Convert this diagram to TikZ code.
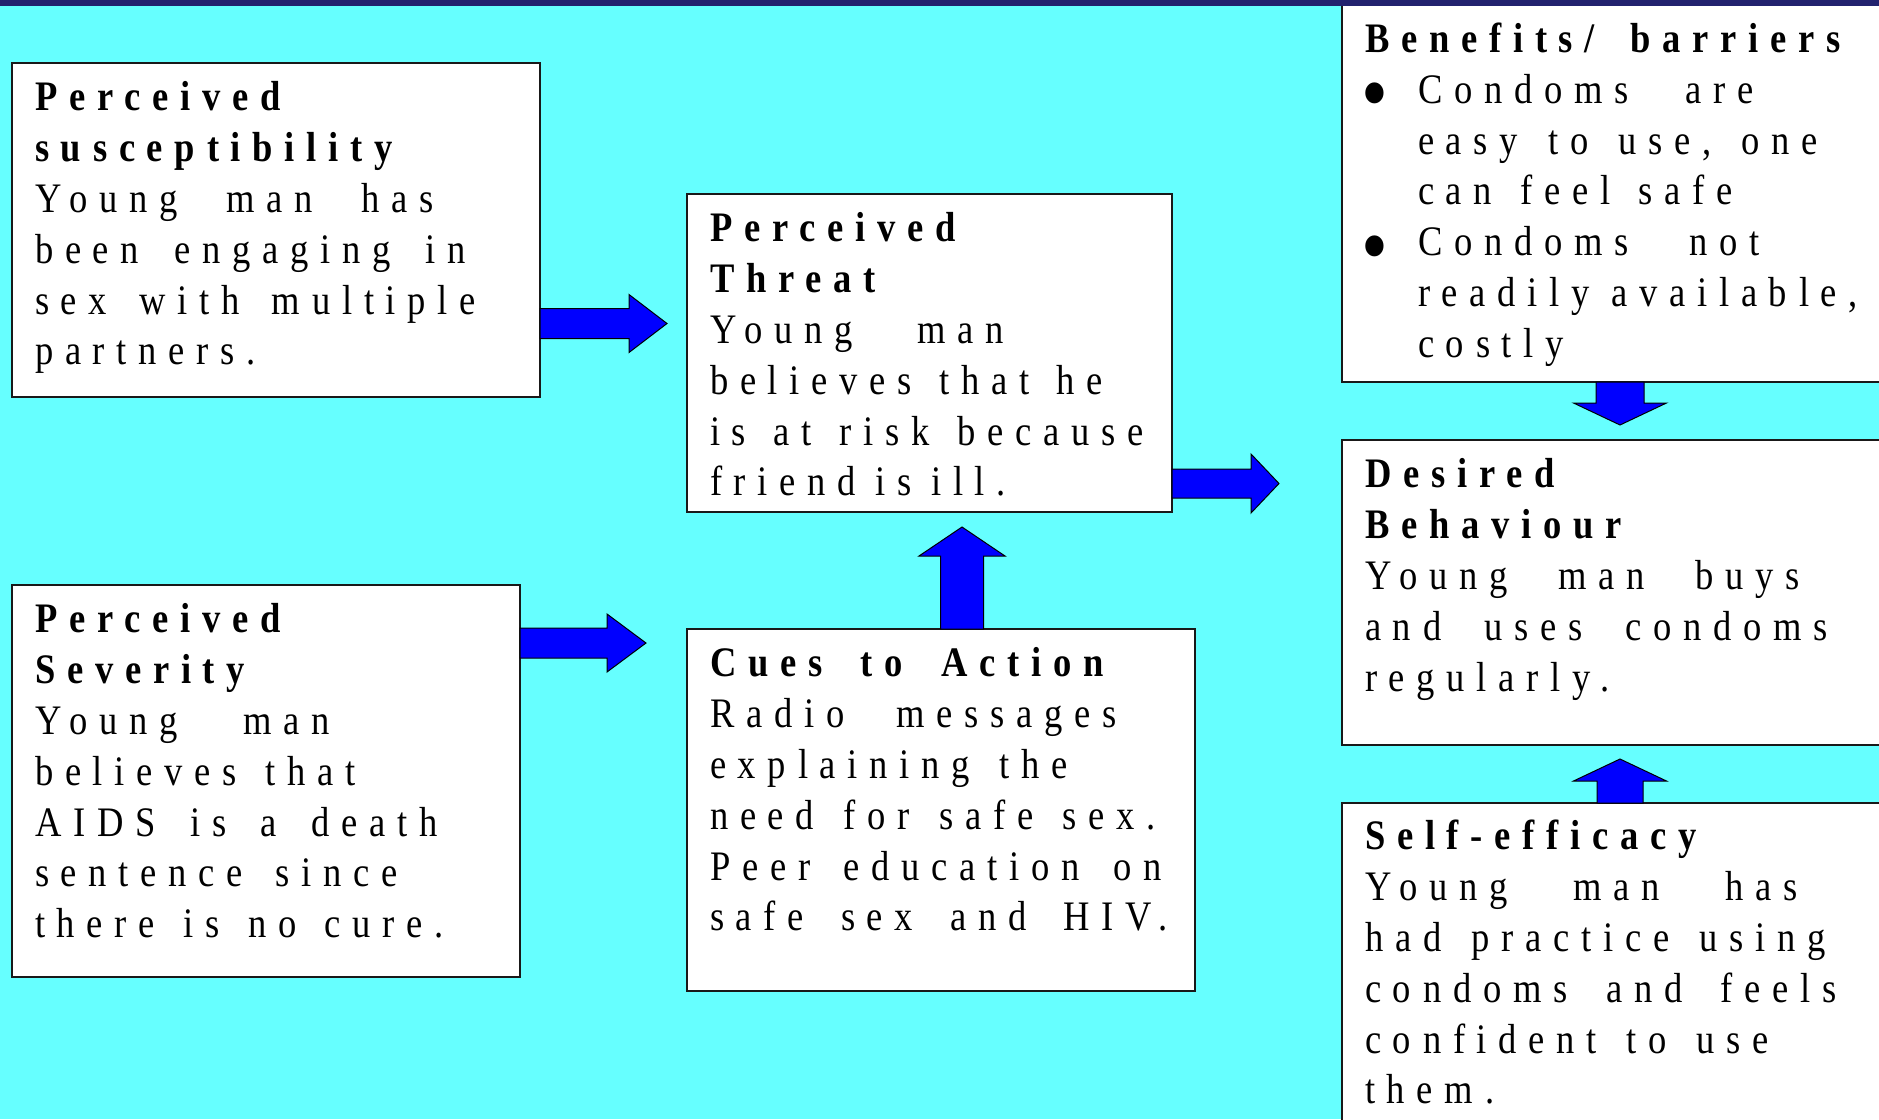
\documentclass[tikz,border=0pt]{standalone}
\usepackage{fontspec}
\setmainfont{Liberation Serif}[LetterSpace=28, FakeStretch=0.87]
\usetikzlibrary{calc}

\definecolor{bgcyan}{HTML}{66FFFF}
\definecolor{arrowblue}{HTML}{0000FF}
\definecolor{barnavy}{HTML}{22226E}

% word gap that can be spread out
\newcommand{\wsp}{\hspace{0.3em plus 5em}}
% one set line of text, spread to a given width (pt)
\newcommand{\fitline}[2]{\makebox[#1pt][s]{#2}}
% list marker ahead of an item's first line
\newcommand{\bulletmark}{\makebox[53pt][l]{\hspace*{-4pt}\raisebox{-19.5pt}{\fontsize{88}{88}\selectfont •}}}

\tikzset{
  box/.style={draw=black!90, line width=1.8pt, fill=white, rectangle,
    inner sep=0pt, outer sep=0pt, anchor=north west},
  boxtext/.style={anchor=north west, inner sep=0pt, outer sep=0pt,
    align=left, text width=600pt, font={\fontsize{42}{50.8}\selectfont}},
  blockarrow/.style={fill=arrowblue, draw=black, line width=1pt, line join=miter},
  % block arrow pointing along +x: total length, head length, shaft half width, head half width
  pics/barrow/.style n args={4}{code={
    \draw[blockarrow] (0,-#3) -- ({#1-#2},-#3) -- ({#1-#2},-#4) -- (#1,0)
      -- ({#1-#2},#4) -- ({#1-#2},#3) -- (0,#3) -- cycle;
  }}
}

\begin{document}
\begin{tikzpicture}[x=1pt, y=-1pt]
  \useasboundingbox (0,0) rectangle (1879,1119);
  \clip (0,0) rectangle (1879,1119);
  \fill[bgcyan] (0,0) rectangle (1879,1119);

  % boxes
  \node[box, minimum width=528pt, minimum height=334pt] (susc) at (12,63) {};
  \node[box, minimum width=508pt, minimum height=392pt] (sev) at (12,585) {};
  \node[box, minimum width=485pt, minimum height=318pt] (threat) at (687,194) {};
  \node[box, minimum width=508pt, minimum height=362pt] (cues) at (687,629) {};
  \node[box, minimum width=560pt, minimum height=378pt] (benefits) at (1342,4) {};
  \node[box, minimum width=560pt, minimum height=305pt] (desired) at (1342,440) {};
  \node[box, minimum width=560pt, minimum height=340pt] (selfeff) at (1342,803) {};

  % box texts
  \node[boxtext] (susctext) at ($(susc.north west)+(23,12.4)$)
    {\strut\textbf{Perceived}\\ \textbf{susceptibility}\\
     \fitline{399}{Young\wsp man\wsp has}\\ \fitline{431}{been\wsp engaging\wsp in}\\
     \fitline{441}{sex\wsp with\wsp multiple}\\ partners.};
  \node[boxtext] (sevtext) at ($(sev.north west)+(23,12.4)$)
    {\strut\textbf{Perceived}\\ \textbf{Severity}\\
     \fitline{295}{Young\wsp man}\\ \fitline{321}{believes\wsp that}\\
     \fitline{403}{AIDS\wsp is\wsp a\wsp death}\\ \fitline{363}{sentence\wsp since}\\
     \fitline{409}{there\wsp is\wsp no\wsp cure.}};
  \node[boxtext] (threattext) at ($(threat.north west)+(23,12.4)$)
    {\strut\textbf{Perceived}\\ \textbf{Threat}\\
     \fitline{294}{Young\wsp man}\\ \fitline{393}{believes\wsp that\wsp he}\\
     \fitline{434}{is\wsp at\wsp risk\wsp because}\\ \fitline{296}{friend\wsp is\wsp ill.}};
  \node[boxtext] (cuestext) at ($(cues.north west)+(23,12.4)$)
    {\strut\textbf{\fitline{394}{Cues\wsp to\wsp Action}}\\ \fitline{407}{Radio\wsp messages}\\
     \fitline{358}{explaining\wsp the}\\ \fitline{446}{need\wsp for\wsp safe\wsp sex.}\\
     \fitline{452}{Peer\wsp education\wsp on}\\ \fitline{458}{safe\wsp sex\wsp and\wsp HIV.}};
  \node[boxtext] (benefitstext) at ($(benefits.north west)+(23,13)$)
    {\strut\textbf{\fitline{476}{Benefits/\wsp barriers}}\\
     \bulletmark\fitline{336}{Condoms\wsp are}\\
     \hspace*{53pt}\fitline{400}{easy\wsp to\wsp use,\wsp one}\\
     \hspace*{53pt}\fitline{315}{can\wsp feel\wsp safe}\\
     \bulletmark\fitline{342}{Condoms\wsp not}\\
     \hspace*{53pt}\fitline{440}{readily\wsp available,}\\
     \hspace*{53pt}costly};
  \node[boxtext] (desiredtext) at ($(desired.north west)+(23,12.4)$)
    {\strut\textbf{Desired}\\ \textbf{Behaviour}\\
     \fitline{435}{Young\wsp man\wsp buys}\\ \fitline{463}{and\wsp uses\wsp condoms}\\ regularly.};
  \node[boxtext] (selfefftext) at ($(selfeff.north west)+(23,11.4)$)
    {\strut\textbf{Self-efficacy}\\ \fitline{433}{Young\wsp man\wsp has}\\
     \fitline{461}{had\wsp practice\wsp using}\\ \fitline{472}{condoms\wsp and\wsp feels}\\
     \fitline{404}{confident\wsp to\wsp use}\\ them.};

  % block arrows between the boxes
  \pic at (susc.east |- 0,323.5) {barrow={127}{38}{15}{29}};
  \pic at (sev.east |- 0,643) {barrow={126}{39}{15}{29}};
  \pic at (threat.east |- 0,483.5) {barrow={107}{28}{14.5}{29.5}};
  \pic[rotate=90] at (962,0 |- cues.north) {barrow={102}{29}{21.5}{43}};
  \pic[rotate=-90] at (1620,0 |- benefits.south) {barrow={43}{22}{24}{46.5}};
  \pic[rotate=90] at (1620,0 |- selfeff.north) {barrow={44}{22}{23}{46.5}};

  % dark title strip along the top edge
  \shade[left color=barnavy, middle color=black, right color=barnavy] (0,0) rectangle (1879,5);
\end{tikzpicture}
\end{document}
